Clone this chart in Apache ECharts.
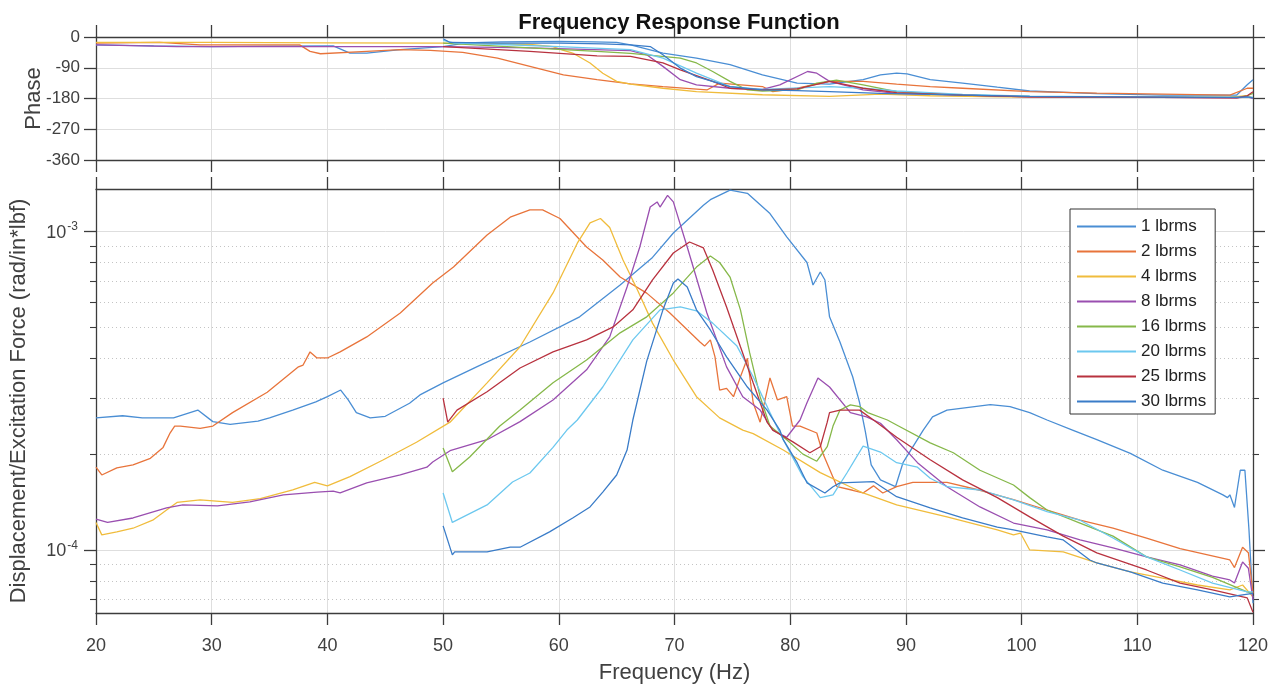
<!DOCTYPE html>
<html><head><meta charset="utf-8">
<script src="https://cdn.jsdelivr.net/npm/echarts@6/dist/echarts.min.js"></script>
<style>html,body{margin:0;padding:0;background:#fff}#c{width:1275px;height:689px}</style>
</head><body><div id="c"></div>
<script>
// ---------- data ----------
const seriesNames = ['1 lbrms','2 lbrms','4 lbrms','8 lbrms','16 lbrms','20 lbrms','25 lbrms','30 lbrms'];
const seriesColors = ['#4a8ed4','#e8743b','#f0bc3c','#9a4fb0','#86b84a','#6cc8ef','#b8323f','#3a7cc8'];
const freqTicks = [20,30,40,50,60,70,80,90,100,110,120];
const phaseTicks = [0,-90,-180,-270,-360];
const magMajorTicks = [1e-4,1e-3];
const magMinorTicks = [7e-5,8e-5,9e-5,2e-4,3e-4,4e-4,5e-4,6e-4,7e-4,8e-4,9e-4];

// magnitude [Hz, rad/(in*lbf)]
const mag_1 = [[20,2.60e-4],[22.3,2.64e-4],[24.0,2.60e-4],[26.7,2.60e-4],[28.8,2.75e-4],[30.1,2.53e-4],[31.6,2.48e-4],[34.0,2.54e-4],[35.0,2.60e-4],[37.0,2.75e-4],[39.0,2.92e-4],[40.0,3.03e-4],[41.15,3.18e-4],[41.8,2.96e-4],[42.5,2.70e-4],[43.7,2.60e-4],[45.0,2.63e-4],[47.1,2.89e-4],[48.0,3.07e-4],[50.0,3.35e-4],[52.9,3.76e-4],[57.5,4.50e-4],[61.8,5.40e-4],[65.3,6.80e-4],[68.1,8.30e-4],[69.9,9.9e-4],[72.5,1.21e-3],[73.1,1.26e-3],[74.8,1.35e-3],[76.3,1.32e-3],[78.25,1.14e-3],[79.7,9.63e-4],[81.45,8.0e-4],[81.97,6.8e-4],[82.6,7.47e-4],[83.0,7.05e-4],[83.4,5.4e-4],[84.3,4.5e-4],[85.4,3.5e-4],[86.0,2.9e-4],[86.5,2.35e-4],[87.0,1.85e-4],[87.8,1.66e-4],[89.1,1.58e-4],[89.75,1.88e-4],[91.5,2.38e-4],[92.3,2.62e-4],[93.55,2.75e-4],[97.3,2.86e-4],[99.0,2.82e-4],[100.7,2.70e-4],[102.2,2.56e-4],[104.4,2.38e-4],[106.5,2.22e-4],[109.4,2.01e-4],[112.2,1.78e-4],[115.2,1.63e-4],[117.4,1.49e-4],[117.8,1.46e-4],[118.0,1.49e-4],[118.4,1.36e-4],[118.9,1.78e-4],[119.3,1.78e-4],[119.65,1.16e-4],[120,6.8e-5]];
const mag_2 = [[20,1.82e-4],[20.5,1.72e-4],[21.8,1.81e-4],[23.2,1.85e-4],[24.7,1.94e-4],[25.8,2.10e-4],[26.4,2.33e-4],[26.8,2.45e-4],[27.3,2.45e-4],[29.0,2.41e-4],[30.1,2.45e-4],[31.8,2.70e-4],[34.8,3.13e-4],[37.5,3.76e-4],[37.9,3.81e-4],[38.5,4.19e-4],[39.1,4.01e-4],[40.0,4.01e-4],[41.1,4.19e-4],[43.4,4.67e-4],[46.3,5.55e-4],[49.1,6.90e-4],[50.9,7.74e-4],[53.8,9.76e-4],[55.8,1.11e-3],[57.5,1.17e-3],[58.6,1.17e-3],[60.1,1.10e-3],[62.4,8.95e-4],[63.8,8.15e-4],[65.3,7.2e-4],[67.6,6.41e-4],[69.6,5.55e-4],[72.2,4.5e-4],[72.6,4.37e-4],[73.1,4.57e-4],[73.5,4.04e-4],[73.9,3.18e-4],[74.5,3.22e-4],[75.1,3.03e-4],[75.7,3.5e-4],[76.3,4.0e-4],[76.8,2.9e-4],[77.4,2.52e-4],[78.25,3.47e-4],[78.9,2.96e-4],[79.7,3.03e-4],[80.2,2.45e-4],[80.85,2.45e-4],[82.3,2.33e-4],[82.8,2.02e-4],[84.05,1.58e-4],[85.4,1.54e-4],[86.3,1.51e-4],[87.2,1.59e-4],[88.0,1.51e-4],[89.2,1.58e-4],[90.6,1.63e-4],[93.55,1.63e-4],[96.4,1.54e-4],[99.3,1.44e-4],[102.2,1.335e-4],[105.05,1.24e-4],[107.9,1.17e-4],[110.8,1.09e-4],[113.7,1.01e-4],[118.0,9.3e-5],[118.4,8.8e-5],[119.1,1.02e-4],[119.6,9.8e-5],[120,7.3e-5]];
const mag_4 = [[20,1.22e-4],[20.5,1.115e-4],[21.8,1.14e-4],[23.2,1.17e-4],[24.9,1.24e-4],[26.1,1.335e-4],[27.0,1.41e-4],[29.0,1.436e-4],[31.8,1.41e-4],[34.2,1.45e-4],[37.0,1.543e-4],[38.9,1.63e-4],[40.0,1.59e-4],[41.95,1.70e-4],[44.8,1.917e-4],[47.7,2.18e-4],[50.6,2.52e-4],[53.8,3.35e-4],[56.65,4.35e-4],[59.5,6.42e-4],[61.6,9.2e-4],[62.7,1.065e-3],[63.6,1.10e-3],[64.4,1.03e-3],[65.55,8.15e-4],[66.8,6.56e-4],[68.1,5.16e-4],[69.9,3.95e-4],[71.9,3.03e-4],[73.9,2.60e-4],[75.9,2.38e-4],[76.8,2.32e-4],[79.4,2.06e-4],[82.6,1.75e-4],[86.3,1.51e-4],[89.2,1.385e-4],[93.55,1.27e-4],[97.9,1.156e-4],[99.3,1.115e-4],[99.9,1.13e-4],[100.7,1.0e-4],[103.6,9.86e-5],[106.5,9.1e-5],[109.4,8.53e-5],[112.2,8.15e-5],[115.2,7.76e-5],[118.0,7.49e-5],[119.1,7.76e-5],[120,7.12e-5]];
const mag_8 = [[20,1.25e-4],[21.0,1.22e-4],[23.2,1.26e-4],[26.1,1.355e-4],[27.5,1.385e-4],[30.5,1.375e-4],[33.3,1.415e-4],[36.2,1.49e-4],[39.1,1.52e-4],[40.5,1.53e-4],[41.1,1.51e-4],[43.4,1.625e-4],[46.3,1.72e-4],[48.6,1.82e-4],[49.1,1.89e-4],[50.6,2.05e-4],[53.8,2.22e-4],[56.65,2.53e-4],[59.5,2.96e-4],[62.4,3.68e-4],[64.4,4.67e-4],[65.9,6.7e-4],[67.0,8.95e-4],[67.9,1.195e-3],[68.5,1.24e-3],[68.75,1.195e-3],[69.4,1.30e-3],[69.9,1.24e-3],[71.1,8.95e-4],[72.8,5.55e-4],[74.5,3.76e-4],[75.9,3.03e-4],[77.4,2.75e-4],[78.5,2.38e-4],[79.7,2.26e-4],[80.85,2.56e-4],[81.45,2.9e-4],[82.4,3.47e-4],[83.4,3.25e-4],[85.2,2.7e-4],[86.6,2.62e-4],[87.8,2.5e-4],[89.2,2.22e-4],[91.0,1.88e-4],[93.55,1.58e-4],[96.4,1.365e-4],[99.3,1.215e-4],[102.2,1.156e-4],[105.05,1.075e-4],[107.9,1.015e-4],[110.8,9.51e-5],[113.7,8.97e-5],[116.5,8.27e-5],[118.0,8.05e-5],[118.4,7.87e-5],[119.1,9.17e-5],[119.6,8.76e-5],[120,6.97e-5]];
const mag_16 = [[50,2.09e-4],[50.8,1.76e-4],[52.3,1.96e-4],[54.9,2.45e-4],[56.65,2.75e-4],[59.5,3.35e-4],[62.4,3.95e-4],[65.3,4.81e-4],[67.6,5.40e-4],[69.9,6.42e-4],[71.9,7.74e-4],[73.1,8.39e-4],[73.9,8.0e-4],[74.8,7.2e-4],[75.7,5.68e-4],[76.5,4.16e-4],[77.4,3.03e-4],[78.25,2.45e-4],[79.7,2.22e-4],[81.1,2.0e-4],[82.3,1.9e-4],[83.2,2.11e-4],[83.7,2.45e-4],[84.3,2.75e-4],[85.2,2.855e-4],[86.0,2.82e-4],[86.7,2.7e-4],[88.4,2.56e-4],[89.2,2.47e-4],[92.1,2.17e-4],[94.1,2.02e-4],[96.4,1.78e-4],[99.3,1.6e-4],[100.7,1.46e-4],[102.2,1.335e-4],[105.05,1.215e-4],[107.9,1.105e-4],[110.8,9.51e-5],[113.7,8.85e-5],[116.5,8.2e-5],[119.5,7.38e-5],[120,7.3e-5]];
const mag_20 = [[50,1.51e-4],[50.8,1.22e-4],[53.8,1.385e-4],[56.0,1.635e-4],[57.5,1.745e-4],[59.5,2.10e-4],[60.7,2.38e-4],[61.6,2.56e-4],[63.8,3.25e-4],[66.4,4.57e-4],[68.75,5.68e-4],[70.5,5.80e-4],[71.9,5.64e-4],[73.3,5.16e-4],[75.4,4.37e-4],[76.8,3.50e-4],[78.25,2.70e-4],[79.4,2.22e-4],[81.1,1.70e-4],[82.6,1.46e-4],[83.7,1.49e-4],[84.9,1.745e-4],[86.3,2.12e-4],[87.8,2.03e-4],[89.2,1.88e-4],[91.0,1.82e-4],[92.1,1.68e-4],[93.55,1.58e-4],[96.4,1.543e-4],[99.3,1.436e-4],[102.2,1.32e-4],[105.05,1.24e-4],[107.9,1.09e-4],[110.8,9.51e-5],[113.7,8.65e-5],[116.5,7.87e-5],[119.5,7.38e-5],[120,7.38e-5]];
const mag_25 = [[50,3.0e-4],[50.4,2.52e-4],[51.2,2.75e-4],[53.8,3.14e-4],[56.65,3.73e-4],[59.5,4.19e-4],[62.4,4.57e-4],[64.7,5.02e-4],[66.4,5.68e-4],[68.1,7.05e-4],[69.9,8.57e-4],[71.3,9.28e-4],[72.5,8.89e-4],[73.3,7.58e-4],[74.5,5.8e-4],[75.7,4.35e-4],[76.8,3.35e-4],[78.0,2.52e-4],[78.5,2.38e-4],[80.2,2.19e-4],[81.7,2.02e-4],[82.6,2.11e-4],[83.2,2.52e-4],[83.4,2.7e-4],[84.3,2.75e-4],[86.0,2.75e-4],[87.2,2.56e-4],[89.2,2.26e-4],[92.1,1.92e-4],[94.9,1.66e-4],[97.9,1.46e-4],[100.7,1.27e-4],[103.6,1.105e-4],[106.5,9.79e-5],[110.8,8.65e-5],[113.7,7.87e-5],[116.5,7.49e-5],[119.5,7.07e-5],[120,6.37e-5]];
const mag_30 = [[50,1.19e-4],[50.8,9.65e-5],[51.0,9.86e-5],[53.8,9.86e-5],[55.8,1.02e-4],[56.65,1.02e-4],[59.2,1.14e-4],[61.2,1.26e-4],[62.7,1.365e-4],[63.8,1.52e-4],[65.0,1.72e-4],[65.9,2.06e-4],[66.4,2.56e-4],[67.6,3.92e-4],[69.0,5.68e-4],[69.9,6.9e-4],[70.3,7.1e-4],[71.1,6.7e-4],[71.9,5.68e-4],[73.1,4.91e-4],[74.5,4.04e-4],[76.3,3.25e-4],[78.0,2.75e-4],[79.1,2.38e-4],[79.4,2.22e-4],[80.6,1.88e-4],[81.45,1.625e-4],[83.0,1.51e-4],[83.7,1.58e-4],[84.3,1.625e-4],[87.2,1.64e-4],[89.2,1.47e-4],[92.1,1.355e-4],[94.9,1.26e-4],[97.9,1.18e-4],[99.3,1.156e-4],[102.2,1.10e-4],[103.6,1.075e-4],[105.9,9.3e-5],[106.5,9.1e-5],[109.4,8.53e-5],[112.2,7.87e-5],[115.2,7.49e-5],[118.0,7.12e-5],[119.1,7.22e-5],[120,7.3e-5]];

// phase [Hz, deg]
const ph_1 = [[20,-23],[25,-26],[30,-28],[35,-27],[40.5,-26],[41.95,-47],[43.4,-47],[46.3,-37],[50,-28],[52,-17],[55,-14],[60,-13],[63,-14],[65,-16],[66.2,-23],[69,-47],[71.9,-62],[74.8,-81],[77.6,-111],[80.6,-135],[83.4,-138],[86.3,-125],[87.8,-111],[89.2,-106],[90.1,-108],[92.1,-125],[94.9,-135],[97.9,-147],[100.7,-158],[106.5,-166],[112.2,-170],[118.6,-170],[119.5,-140],[120,-125]];
const ph_2 = [[20,-18],[25.5,-16],[29,-23],[37.6,-23],[38.5,-42],[39.4,-49],[43.4,-42],[46.3,-37],[48.9,-39],[51.7,-45],[54.7,-62],[57.5,-86],[60.4,-111],[63.3,-125],[66.2,-137],[69,-145],[72.8,-155],[73.9,-135],[77.6,-145],[78.5,-160],[80.6,-150],[83.4,-130],[86.3,-130],[89.2,-138],[92.1,-145],[94.9,-150],[100.7,-160],[106.5,-164],[118,-170],[119.5,-150],[120,-150]];
const ph_4 = [[20,-16],[30,-16],[40,-17],[50,-18],[57.5,-22],[59.5,-28],[60.4,-39],[61.2,-47],[62.7,-76],[63.8,-106],[65,-130],[66.2,-138],[69,-150],[71.9,-160],[77.6,-169],[83.4,-174],[87.8,-167],[92.1,-172],[100,-176],[110,-177],[118,-176],[119.5,-172],[120,-178]];
const ph_8 = [[20,-23],[27,-28],[35,-28],[50,-28],[57.5,-32],[66.2,-40],[67.6,-52],[69,-86],[70.5,-125],[71.9,-140],[74.8,-150],[77.6,-153],[79.1,-140],[81.5,-101],[82.3,-106],[83.4,-130],[86.3,-155],[89.2,-165],[94.9,-170],[100.7,-175],[112,-177],[118.6,-178],[119.5,-175],[120,-180]];
const ph_16 = [[50,-18],[57.5,-32],[63.3,-42],[66.2,-48],[70.5,-62],[71.9,-76],[73.3,-101],[74.8,-130],[76.3,-155],[77.6,-158],[80.6,-155],[82.3,-135],[84,-126],[86.3,-140],[89.2,-160],[94.9,-170],[100.7,-174],[112,-176],[118.6,-177],[119.5,-172],[120,-165]];
const ph_20 = [[50,-10],[51,-18],[55,-22],[60,-28],[66.2,-37],[69,-62],[71.9,-106],[74.8,-145],[77.6,-153],[83.4,-145],[86.3,-150],[89.2,-158],[94.9,-168],[100.7,-173],[112,-176],[118.6,-177],[120,-176]];
const ph_25 = [[50,-28],[57.5,-42],[63.3,-55],[66.2,-57],[69,-76],[70.5,-96],[73.3,-130],[74.8,-150],[77.6,-155],[80.6,-152],[83.4,-130],[86.3,-150],[89.2,-163],[94.9,-170],[100.7,-175],[112,-177],[118.6,-178],[119.5,-172],[120,-160]];
const ph_30 = [[50,-5],[50.6,-16],[55,-18],[60,-18],[63.8,-20],[66.2,-23],[67.9,-28],[69,-52],[70.5,-91],[71.9,-116],[74.8,-145],[77.6,-155],[80.6,-157],[83.4,-160],[87.8,-165],[92.1,-168],[100.7,-174],[112.2,-176],[118.6,-177],[119.5,-175],[120,-178]];

const magData = [mag_1,mag_2,mag_4,mag_8,mag_16,mag_20,mag_25,mag_30];
const phaseData = [ph_1,ph_2,ph_4,ph_8,ph_16,ph_20,ph_25,ph_30];

// ---------- chart ----------
const FONT = '"Liberation Sans", Arial, Helvetica, sans-serif';
const AX = '#3c3c3c', TXT = '#404040', GRIDC = '#dedede';
const MAGMIN = 6.337e-5, MAGMAX = 1.3615e-3;

function xAx(grid, pos, withLabels, extra) {
  return Object.assign({
    type: 'value', gridIndex: grid, position: pos, min: 20, max: 120, interval: 10,
    axisLine: { onZero: false, lineStyle: { color: AX, width: 1.3 } },
    axisTick: { show: true, inside: false, length: 12, lineStyle: { color: AX, width: 1.3 } },
    axisLabel: { show: withLabels, color: TXT, fontSize: 18, fontFamily: FONT, margin: 24 },
    splitLine: { show: pos === 'bottom', lineStyle: { color: GRIDC, width: 1 } }
  }, extra || {});
}

const xAxes = [
  xAx(0, 'bottom', false),
  xAx(0, 'top', false),
  xAx(1, 'bottom', true, { name: 'Frequency (Hz)', nameLocation: 'middle', nameGap: 49, nameMoveOverlap: false,
    nameTextStyle: { color: TXT, fontSize: 22, fontFamily: FONT } }),
  xAx(1, 'top', false)
];

const yAxes = [
  { type: 'value', gridIndex: 0, position: 'left', min: -360, max: 0, interval: 90,
    name: 'Phase', nameLocation: 'middle', nameGap: 51, nameMoveOverlap: false,
    nameTextStyle: { color: TXT, fontSize: 22, fontFamily: FONT },
    axisLine: { lineStyle: { color: AX, width: 1.3 } },
    axisTick: { inside: false, length: 12, lineStyle: { color: AX, width: 1.3 } },
    axisLabel: { color: TXT, fontSize: 17, fontFamily: FONT, margin: 16 },
    splitLine: { show: true, lineStyle: { color: GRIDC, width: 1 } } },
  { type: 'value', gridIndex: 0, position: 'right', min: -360, max: 0, interval: 90,
    axisLine: { lineStyle: { color: AX, width: 1.3 } },
    axisTick: { inside: false, length: 12, lineStyle: { color: AX, width: 1.3 } },
    axisLabel: { show: false }, splitLine: { show: false } },
  // magnitude left major
  { type: 'log', logBase: 10, gridIndex: 1, position: 'left', min: MAGMIN, max: MAGMAX,
    name: 'Displacement/Excitation Force (rad/in*lbf)', nameLocation: 'middle', nameGap: 66, nameMoveOverlap: false,
    nameTextStyle: { color: TXT, fontSize: 22, fontFamily: FONT },
    axisLine: { lineStyle: { color: AX, width: 1.3 } },
    axisTick: { inside: false, length: 12, customValues: magMajorTicks, lineStyle: { color: AX, width: 1.3 } },
    axisLabel: { customValues: magMajorTicks, margin: 18, fontFamily: FONT,
      formatter: v => '{b|10}{s|' + Math.round(Math.log10(v)) + '}',
      rich: { b: { fontSize: 18, color: TXT, fontFamily: FONT, verticalAlign: 'bottom' },
              s: { fontSize: 12, color: TXT, fontFamily: FONT, verticalAlign: 'bottom', padding: [0, 0, 9, 1] } } },
    splitLine: { show: true, lineStyle: { color: GRIDC, width: 1 } } },
  // magnitude left minor
  { type: 'log', logBase: 10, gridIndex: 1, position: 'left', min: MAGMIN, max: MAGMAX,
    axisLine: { show: false },
    axisTick: { inside: false, length: 6, customValues: magMinorTicks, lineStyle: { color: AX, width: 1.1 } },
    axisLabel: { show: false },
    splitLine: { show: true, lineStyle: { color: '#c4c4c4', width: 1, type: [1, 3] } } },
  // magnitude right major
  { type: 'log', logBase: 10, gridIndex: 1, position: 'right', min: MAGMIN, max: MAGMAX,
    axisLine: { lineStyle: { color: AX, width: 1.3 } },
    axisTick: { inside: false, length: 12, customValues: magMajorTicks, lineStyle: { color: AX, width: 1.3 } },
    axisLabel: { show: false }, splitLine: { show: false } },
  // magnitude right minor
  { type: 'log', logBase: 10, gridIndex: 1, position: 'right', min: MAGMIN, max: MAGMAX,
    axisLine: { show: false },
    axisTick: { inside: false, length: 6, customValues: magMinorTicks, lineStyle: { color: AX, width: 1.1 } },
    axisLabel: { show: false }, splitLine: { show: false } }
];

const series = [];
seriesNames.forEach((n, i) => {
  series.push({ name: n, type: 'line', xAxisIndex: 0, yAxisIndex: 0, data: phaseData[i],
    symbol: 'none', showSymbol: false, smooth: false, animation: false, z: 3,
    lineStyle: { color: seriesColors[i], width: 1.3 }, itemStyle: { color: seriesColors[i] } });
});
seriesNames.forEach((n, i) => {
  series.push({ name: n, type: 'line', xAxisIndex: 2, yAxisIndex: 2, data: magData[i],
    symbol: 'none', showSymbol: false, smooth: false, animation: false, z: 3,
    lineStyle: { color: seriesColors[i], width: 1.3 }, itemStyle: { color: seriesColors[i] } });
});

const chart = echarts.init(document.getElementById('c'), null, { renderer: 'canvas' });
chart.setOption({
  backgroundColor: '#fff',
  animation: false,
  title: { text: 'Frequency Response Function', left: 674, top: 7, textAlign: 'center',
    textStyle: { color: '#111', fontSize: 22, fontWeight: 'bold', fontFamily: FONT } },
  grid: [
    { left: 96, top: 37, width: 1157, height: 123, containLabel: false, outerBoundsMode: 'none' },
    { left: 96, top: 189, width: 1157, height: 424, containLabel: false, outerBoundsMode: 'none' }
  ],
  legend: {
    data: seriesNames.map((n, i) => ({ name: n, icon: 'rect', itemStyle: { color: seriesColors[i] } })),
    orient: 'vertical', left: 1070, top: 209,
    padding: [9, 9, 4, 7], itemWidth: 59, itemHeight: 2, itemGap: 8,
    backgroundColor: '#fff', borderColor: '#333', borderWidth: 1, borderRadius: 0,
    textStyle: { color: '#222', fontSize: 17, lineHeight: 17, fontFamily: FONT },
    selectedMode: false, z: 10
  },
  xAxis: xAxes,
  yAxis: yAxes,
  series: series
});
</script></body></html>
